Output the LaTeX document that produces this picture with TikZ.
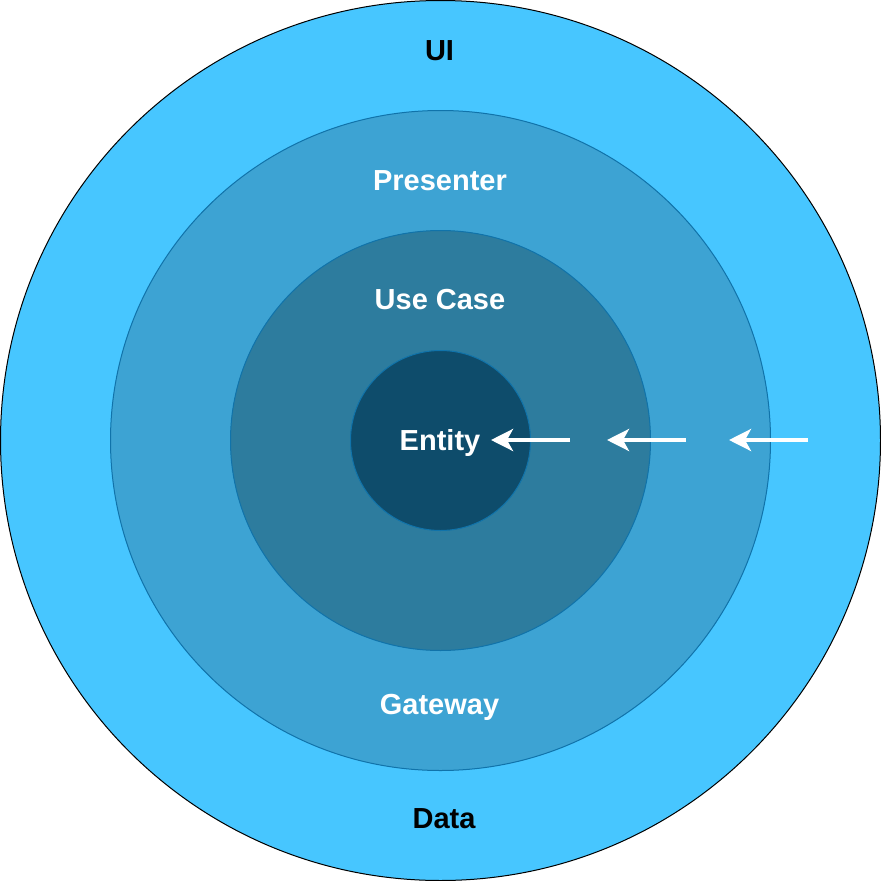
\documentclass[tikz,border=0pt]{standalone}
\usepackage{fontspec}
\setmainfont{Liberation Sans}
\usetikzlibrary{arrows.meta}

\definecolor{ringUI}{RGB}{71,198,255}
\definecolor{ringPres}{RGB}{61,163,211}
\definecolor{ringCase}{RGB}{45,124,158}
\definecolor{ringEnt}{RGB}{14,76,107}
\definecolor{ringLine}{RGB}{16,115,170}

\begin{document}
\begin{tikzpicture}[x=1pt,y=-1pt,
    lbl/.style={anchor=base,inner sep=0pt,font=\fontsize{29}{35}\selectfont\bfseries},
    dep/.style={draw=white,line width=4pt,-{Stealth[length=22pt,width=22pt,inset=6pt]}}]
  \useasboundingbox (0,0) rectangle (881,881);
  \coordinate (c) at (440.5,440.5);

  % rings
  \path[fill=ringUI,draw=black,line width=1pt] (c) circle (440);
  \path[fill=ringPres,draw=ringLine,line width=1pt] (c) circle (330);
  \path[fill=ringCase,draw=ringLine,line width=1pt] (c) circle (210);
  \path[fill=ringEnt,draw=ringLine,line width=1pt] (c) circle (90);

  % labels
  \node[lbl,text=black] (ui) at (439.5,60) {UI};
  \node[lbl,text=white] (pres) at (440,190) {Presenter};
  \node[lbl,text=white] (case) at (440,309) {Use Case};
  \node[lbl,text=white] (ent) at (440,450.5) {Entity};
  \node[lbl,text=white] (gate) at (439.5,714) {Gateway};
  \node[lbl,text=black] (data) at (444,828) {Data};

  % dependencies point inwards
  \coordinate (a1s) at (570,440);
  \coordinate (a1e) at (491,440);
  \coordinate (a2s) at (686,440);
  \coordinate (a2e) at (607,440);
  \coordinate (a3s) at (808,440);
  \coordinate (a3e) at (729,440);
  \draw[dep] (a1s) -- (a1e);
  \draw[dep] (a2s) -- (a2e);
  \draw[dep] (a3s) -- (a3e);
\end{tikzpicture}
\end{document}
